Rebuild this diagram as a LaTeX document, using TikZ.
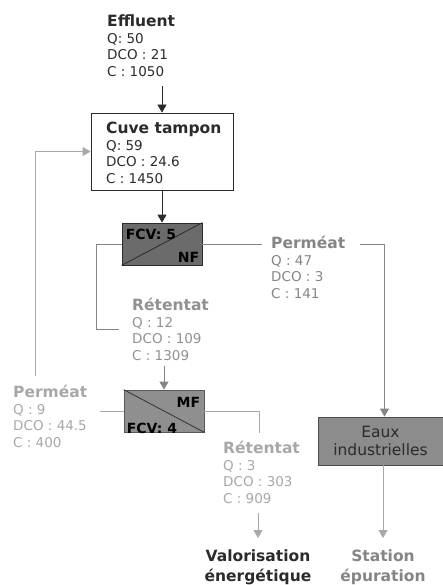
\documentclass[tikz,border=0pt]{standalone}
\usepackage{fontspec}
\setmainfont{DejaVu Sans}
\usetikzlibrary{arrows.meta}

\definecolor{ink}{HTML}{2B2B2B}
\definecolor{midgrey}{HTML}{858585}
\definecolor{lightgrey}{HTML}{A8A8A8}
\definecolor{nfgrey}{HTML}{6B6B6B}
\definecolor{mfgrey}{HTML}{8F8F8F}
\definecolor{eauxgrey}{HTML}{8C8C8C}

\newcommand{\ttl}[1]{{\fontsize{15.5}{18.5}\selectfont\bfseries #1}}

\begin{document}
\begin{tikzpicture}[x=1pt,y=-1pt,
  lbl/.style={anchor=north west, inner sep=0pt, align=left, font=\fontsize{13.5}{16.5}\selectfont},
  dest/.style={anchor=north, inner sep=0pt, align=center, font=\fontsize{15.5}{19.5}\selectfont\bfseries},
  membrane/.style={draw, line width=0.8pt, minimum width=80pt, minimum height=42pt, inner sep=0pt},
  tag/.style={inner sep=0pt, font=\fontsize{14}{16}\selectfont\bfseries, text=black},
  flow/.style={line width=0.8pt},
  arr/.style={flow, -{Triangle[width=9pt,length=8pt]}},
]
\useasboundingbox (0,0) rectangle (443,585);

% Effluent and buffer tank
\node[lbl, text=ink] (effluent) at (107,15) {\ttl{Effluent}\\Q: 50\\DCO : 21\\C : 1050};
\node[draw=ink, line width=0.8pt, minimum width=142pt, minimum height=77pt, inner sep=0pt] (cuve) at (162,151.5) {};
\node[lbl, text=ink] (cuvetxt) at (106,122) {\ttl{Cuve tampon}\\Q: 59\\DCO : 24.6\\C : 1450};

% Nanofiltration
\node[membrane, draw=ink, fill=nfgrey] (nf) at (162,244) {};
\draw[ink, flow] (nf.south west) -- (nf.north east);
\node[tag, anchor=north west] (nffcv) at ([xshift=4pt,yshift=-6pt]nf.north west) {FCV: 5};
\node[tag, anchor=south east] (nfname) at ([xshift=-3pt,yshift=3pt]nf.south east) {NF};

% Microfiltration
\node[membrane, draw=black!65, fill=mfgrey] (mf) at (164,411) {};
\draw[black!80, flow] (mf.north west) -- (mf.south east);
\node[tag, anchor=north east] (mfname) at ([xshift=-4pt,yshift=-7pt]mf.north east) {MF};
\node[tag, anchor=south west] (mffcv) at ([xshift=3pt,yshift=-1pt]mf.south west) {FCV: 4};

% Flow labels
\node[lbl, text=midgrey] (permnf) at (271,236) {\ttl{Perméat}\\Q : 47\\DCO : 3\\C : 141};
\node[lbl, text=midgrey!90!white] (retnf) at (132,298) {\ttl{Rétentat}\\Q : 12\\DCO : 109\\C : 1309};
\node[lbl, text=lightgrey] (permmf) at (13,385) {\ttl{Perméat}\\Q : 9\\DCO : 44.5\\C : 400};
\node[lbl, text=lightgrey] (retmf) at (223,441) {\ttl{Rétentat}\\Q : 3\\DCO : 303\\C : 909};

% Industrial water
\node[draw=black!70, line width=0.8pt, fill=eauxgrey, minimum width=125pt, minimum height=48pt,
      align=center, inner sep=0pt, font=\fontsize{15.5}{18}\selectfont, text=ink] (eaux) at (380.5,441) {Eaux\\industrielles};

% Destinations
\node[dest, text=ink] (valor) at (258,550) {Valorisation\\énergétique};
\node[dest, text=midgrey] (station) at (383,550) {Station\\épuration};

% Connectors
\draw[arr, ink] ([yshift=-9pt]effluent.south -| cuve.north) -- (cuve.north);
\draw[arr, ink] (cuve.south) -- (nf.north);
\draw[flow, midgrey] (nf.east) -- ([xshift=-9pt]permnf.west |- nf.east);
\draw[arr, midgrey] ([xshift=15pt]permnf.north east |- nf.east) -| ([xshift=4pt]eaux.north);
\draw[flow, midgrey] (nf.west) -- ++(-25,0) |- ([xshift=-13pt]retnf.west);
\draw[arr, midgrey] ([yshift=-6pt]retnf.south -| mf.north) -- (mf.north);
\draw[flow, lightgrey] (mf.west) -- ++(-24,0);
\draw[arr, lightgrey] ([xshift=22pt,yshift=9pt]permmf.north west) |- (cuve.west);
\draw[flow, lightgrey] (mf.east) -| ([xshift=-2pt,yshift=8pt]retmf.north);
\draw[arr, lightgrey] ([yshift=-10pt]retmf.south -| valor.north) -- ([yshift=12pt]valor.north);
\draw[arr, lightgrey] ([xshift=2.5pt]eaux.south) -- ([yshift=12pt]station.north);

\end{tikzpicture}
\end{document}
